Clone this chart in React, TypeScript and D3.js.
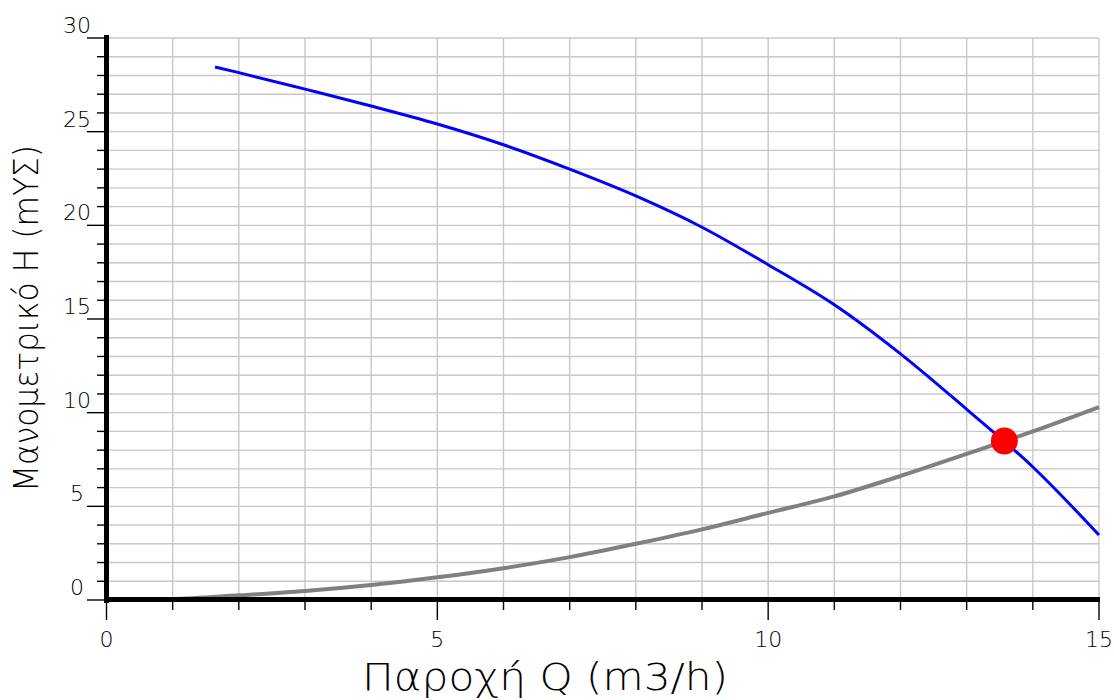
import { useMemo } from 'react';
import * as d3 from 'd3';

// pump curve Q (m3/h) -> H (mΥΣ)
const pumpFlow = [1.64, 2, 3, 4, 5, 6, 7, 8, 9, 10, 11, 12, 13, 14, 15];
const pumpHead = [28.45, 28.15, 27.27, 26.37, 25.41, 24.3, 23.0, 21.57, 19.9, 17.9, 15.76, 13.14, 10.18, 7.1, 3.47];

// system curve
const systemFlow = [0, 1, 2, 3, 4, 5, 6, 7, 8, 9, 10, 11, 12, 13, 14, 15];
const systemHead = [0, 0.05, 0.25, 0.48, 0.8, 1.21, 1.7, 2.29, 3.0, 3.77, 4.65, 5.53, 6.62, 7.8, 9.0, 10.3];

// operating point
const dutyFlow = [13.57];
const dutyHead = [8.49];

const xLabels = [0, 5, 10, 15];
const yLabels = [0, 5, 10, 15, 20, 25, 30];

const W = 1114;
const H = 700;
const FONT = "'DejaVu Sans', sans-serif";

export default function App() {
  const x = useMemo(() => d3.scaleLinear().domain([0, 15]).range([106.5, 1099]), []);
  const y = useMemo(() => d3.scaleLinear().domain([0, 30]).range([600, 38]), []);

  const line = d3.line<[number, number]>()
    .x(d => x(d[0]))
    .y(d => y(d[1]))
    .curve(d3.curveMonotoneX);

  const pumpPts = pumpFlow.map((q, i) => [q, pumpHead[i]] as [number, number]);
  const sysPts = systemFlow.map((q, i) => [q, systemHead[i]] as [number, number]);

  const xTicks = d3.range(0, 16);
  const yTicks = d3.range(0, 31);

  return (
    <svg width={W} height={H} style={{ position: 'absolute', left: 0, top: 0, background: '#fff' }}>
      {/* grid */}
      <g stroke="#c8c8c8" strokeWidth={1.4}>
        {xTicks.filter(t => t > 0).map(t => (
          <line key={'gx' + t} x1={x(t)} x2={x(t)} y1={y(30)} y2={y(0)} />
        ))}
        {yTicks.filter(t => t > 0).map(t => (
          <line key={'gy' + t} x1={x(0)} x2={x(15)} y1={y(t)} y2={y(t)} />
        ))}
      </g>

      {/* curves */}
      <path d={line(sysPts) || ''} fill="none" stroke="#808080" strokeWidth={4} />
      <path d={line(pumpPts) || ''} fill="none" stroke="#0000ff" strokeWidth={3} />
      {dutyFlow.map((q, i) => (
        <circle key={'d' + i} cx={x(q)} cy={y(dutyHead[i])} r={13.5} fill="#ff0000" />
      ))}

      {/* axes */}
      <g stroke="#000" strokeWidth={1.4}>
        {yTicks.map(t => (
          <line key={'ty' + t} x1={t % 5 === 0 ? 87 : 97} x2={106} y1={y(t)} y2={y(t)} />
        ))}
        {xTicks.map(t => (
          <line key={'tx' + t} x1={x(t)} x2={x(t)} y1={600} y2={t % 5 === 0 ? 620 : 610} />
        ))}
      </g>
      <line x1={x(0)} x2={x(0)} y1={35} y2={603} stroke="#000" strokeWidth={5} />
      <line x1={104} x2={x(15) + 1} y1={599.5} y2={599.5} stroke="#000" strokeWidth={5} />

      {/* tick labels */}
      <g fontFamily={FONT} fontWeight={200} fontSize={22} fill="#000">
        {yLabels.map(t => (
          <text key={'ly' + t} x={77} y={y(t) - 5} textAnchor="middle">{t}</text>
        ))}
        {xLabels.map(t => (
          <text key={'lx' + t} x={x(t)} y={647} textAnchor="middle">{t}</text>
        ))}
      </g>

      {/* axis titles */}
      <text x={362} y={690} fontFamily={FONT} fontWeight={200} fontSize={37}
        textLength={366} lengthAdjust="spacingAndGlyphs" fill="#000">
        Παροχή Q (m3/h)
      </text>
      <text transform="translate(38,492) rotate(-90)" fontFamily={FONT} fontWeight={200} fontSize={34}
        textLength={347} lengthAdjust="spacingAndGlyphs" fill="#000">
        Μανομετρικό Η (mΥΣ)
      </text>
    </svg>
  );
}
